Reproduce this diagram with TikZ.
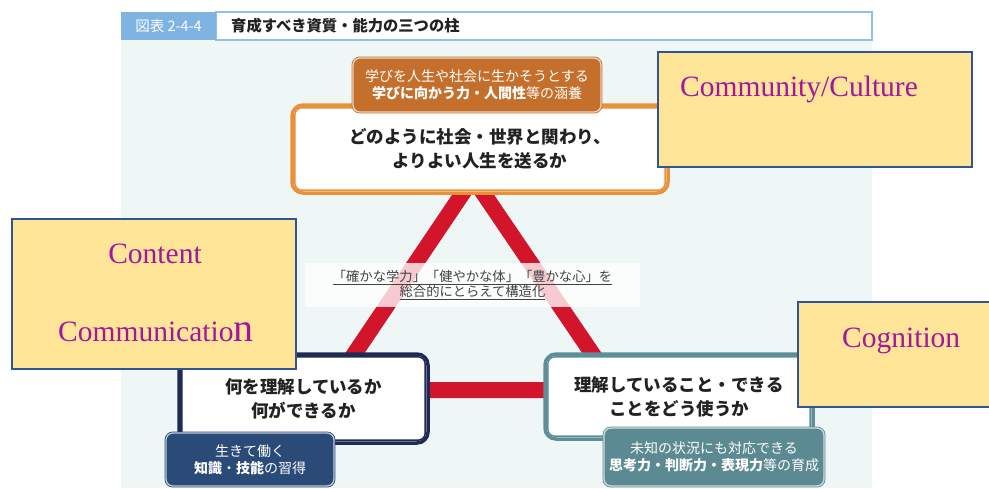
\documentclass[tikz,border=0pt]{standalone}
\usepackage{fontspec}
\setmainfont{Liberation Serif}
\newfontfamily\jp{Noto Sans CJK JP}
\usetikzlibrary{calc}
\definecolor{bgpanel}{HTML}{EEF6F6}
\definecolor{hdrblue}{HTML}{7FB3E2}
\definecolor{hdrline}{HTML}{90C0EA}
\definecolor{trired}{HTML}{D2152B}
\definecolor{orgline}{HTML}{E8913A}
\definecolor{orgtag}{HTML}{C4702C}
\definecolor{navyline}{HTML}{1E2A55}
\definecolor{navytag}{HTML}{2A4A78}
\definecolor{tealline}{HTML}{5E8F98}
\definecolor{tealtag}{HTML}{5B8A93}
\definecolor{yfill}{HTML}{FFE597}
\definecolor{yborder}{HTML}{2F5597}
\definecolor{purp}{HTML}{A3169F}
\definecolor{ink}{HTML}{222222}
\tikzset{
  mainbox/.style={rounded corners=11pt, fill=white, draw=#1, line width=3.5pt, align=center, inner sep=0pt, text=ink,
    font={\jp\bfseries\fontsize{17.5}{24}\selectfont}},
  tagbox/.style={rounded corners=7pt, fill=#1, draw=#1, double=white!70!#1, double distance=1.3pt, line width=0.8pt,
    text=white, align=center, inner sep=0pt, font={\jp\fontsize{14}{17}\selectfont}},
  ybox/.style={fill=yfill, draw=yborder, line width=2pt, inner sep=0pt},
  ytext/.style={text=purp, inner sep=0pt, font={\fontsize{29.5}{30}\selectfont}},
  innerline/.style={line width=1.5pt, rounded corners=7pt},
}
\begin{document}
\begin{tikzpicture}[x=1pt,y=-1pt]
\useasboundingbox (0,0) rectangle (989,488);
\clip (0,0) rectangle (989,488);
\fill[white] (0,0) rectangle (989,488);
% panel
\fill[bgpanel] (121,40) rectangle (872,488);
% header
\fill[white] (216,12) rectangle (872,40);
\draw[hdrline, line width=1.5pt] (216,12) rectangle (872,40);
\node[fill=hdrblue, minimum width=95pt, minimum height=28pt, inner sep=0pt, text=white,
  font={\jp\fontsize{14.5}{16}\selectfont}] (hlabel) at (168.5,26) {図表 2-4-4};
\node[anchor=west, inner sep=0pt, text=ink, font={\jp\bfseries\fontsize{15.3}{17}\selectfont}] (htitle) at (231,26) {育成すべき資質・能力の三つの柱};
% triangle
\coordinate (ta) at (473,178);
\coordinate (tl) at (330,390);
\coordinate (tr) at (617,390);
\draw[trired, line width=16pt, line join=miter] (ta) -- (tl) -- (tr) -- cycle;
% middle label
\node[fill=white, fill opacity=0.78, text opacity=1, minimum width=335pt, minimum height=44pt, inner sep=0pt,
  align=center, text=ink!85, font={\jp\fontsize{13.3}{15.5}\selectfont}] (mid) at (472.5,285)
  {\underline{「確かな学力」「健やかな体」「豊かな心」を}\\\underline{総合的にとらえて構造化}};
% top box
\node[mainbox=orgline, minimum width=376pt, minimum height=88pt] (top) at (480,149)
  {どのように社会・世界と関わり、\\よりよい人生を送るか};
\draw[orgline, innerline] ([shift={(4.6pt,-4.6pt)}]top.north west) rectangle ([shift={(-4.6pt,4.6pt)}]top.south east);
\node[tagbox=orgtag, minimum width=248pt, minimum height=54pt] (toptag) at (477,85)
  {学びを人生や社会に生かそうとする\\{\bfseries 学びに向かう力・人間性}等の涵養};
% bottom left box
\node[mainbox=navyline, minimum width=249pt, minimum height=89pt] (bl) at (303.5,398.5)
  {何を理解しているか\\何ができるか};
\draw[navyline, innerline] ([shift={(4.6pt,-4.6pt)}]bl.north west) rectangle ([shift={(-4.6pt,4.6pt)}]bl.south east);
\node[tagbox=navytag, minimum width=168pt, minimum height=53pt] (bltag) at (250,459.5)
  {生きて働く\\{\bfseries 知識}・{\bfseries 技能}の習得};
% bottom right box
\node[mainbox=tealline, minimum width=268pt, minimum height=85pt] (br) at (679,396.5)
  {理解していること・できる\\ことをどう使うか};
\draw[tealline, innerline] ([shift={(4.6pt,-4.6pt)}]br.north west) rectangle ([shift={(-4.6pt,4.6pt)}]br.south east);
\node[tagbox=tealtag, minimum width=220pt, minimum height=58pt] (brtag) at (714,457)
  {未知の状況にも対応できる\\{\bfseries 思考力・判断力・表現力}等の育成};
% yellow callouts
\node[ybox, minimum width=314pt, minimum height=115pt] (ycomm) at (815,109.5) {};
\node[ytext, anchor=base west] (tcomm) at (680,96) {Community/Culture};
\node[ybox, minimum width=284pt, minimum height=150pt] (ycont) at (154,294) {};
\node[ytext, anchor=base] (tcont) at (155,263) {Content};
\node[ytext, anchor=base west] (tcomu) at (58,341) {Communicatio{\fontsize{40}{40}\selectfont n}};
\node[ybox, minimum width=210pt, minimum height=105pt] (ycog) at (903,354.5) {};
\node[ytext, anchor=base west] (tcog) at (842,347) {Cognition};
\end{tikzpicture}
\end{document}
